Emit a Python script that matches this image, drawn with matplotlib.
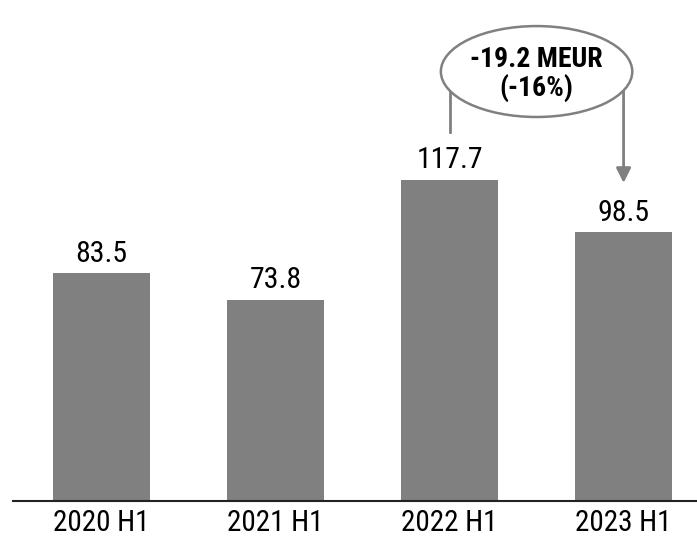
import matplotlib
matplotlib.use("Agg")
import matplotlib.pyplot as plt
from matplotlib.patches import Ellipse

plt.rcParams["font.family"] = ["Roboto Condensed", "Roboto", "DejaVu Sans"]

periods = ["2020 H1", "2021 H1", "2022 H1", "2023 H1"]
values = [83.5, 73.8, 117.7, 98.5]
value_labels = ["83.5", "73.8", "117.7", "98.5"]
delta_text = "-19.2 MEUR\n(-16%)"

BAR_COLOR = "#808080"

fig = plt.figure(figsize=(6.97, 5.37), dpi=100)
ax = fig.add_axes([13 / 697, 36 / 537, 684 / 697, 501 / 537])

x = list(range(len(periods)))
ax.bar(x, values, width=0.556, color=BAR_COLOR)
for xi, v, lab in zip(x, values, value_labels):
    ax.text(xi, v + 4.2, lab, ha="center", va="baseline", fontsize=21.5)

ax.set_xlim(-0.509, 3.422)
ax.set_ylim(0, 183.5)
ax.set_xticks(x)
ax.set_xticklabels(periods, fontsize=21)
ax.tick_params(axis="x", length=0, pad=5.5)
ax.set_yticks([])
for side in ["left", "right", "top"]:
    ax.spines[side].set_visible(False)
ax.spines["bottom"].set_linewidth(1.5)
ax.spines["bottom"].set_color("#222222")

# annotation bubble between 2022 and 2023
ell = Ellipse((2.5, 157.3), 1.10, 33.3, facecolor="white", edgecolor=BAR_COLOR,
              linewidth=1.8, clip_on=False, zorder=3)
ax.add_patch(ell)
ax.text(2.5, 156.5, delta_text, ha="center", va="center", fontsize=20,
        fontweight="bold", zorder=4, linespacing=1.05)
ax.plot([2, 2], [151, 135.2], color=BAR_COLOR, linewidth=2, zorder=2)
ax.annotate("", xy=(3, 116.5), xytext=(3, 151),
            arrowprops=dict(arrowstyle="-|>", color=BAR_COLOR, lw=2,
                            mutation_scale=22, shrinkA=0, shrinkB=0), zorder=2)

fig.savefig("out.png", dpi=100)
